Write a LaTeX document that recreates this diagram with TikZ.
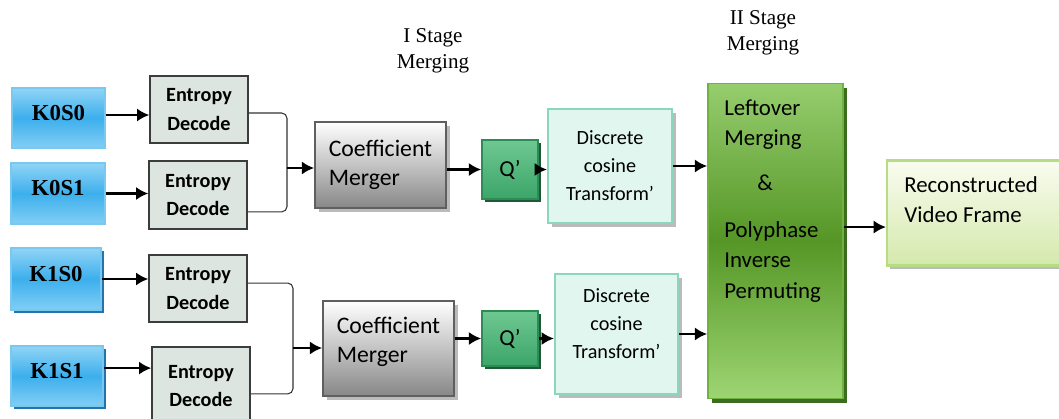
\documentclass[tikz,border=0pt]{standalone}
\usepackage{fontspec}
\setmainfont{Carlito}
\newfontfamily\tnr{Liberation Serif}
\usetikzlibrary{arrows.meta,shadows,calc}

\definecolor{kedge}{RGB}{120,200,240}
\definecolor{ktop}{RGB}{145,212,246}
\definecolor{kmid}{RGB}{60,175,236}
\definecolor{kbot}{RGB}{130,206,245}
\definecolor{kshadow}{RGB}{35,115,175}
\definecolor{edfill}{RGB}{220,229,223}
\definecolor{edline}{RGB}{60,60,60}
\definecolor{cmbot}{RGB}{135,135,135}
\definecolor{cmline}{RGB}{95,95,95}
\definecolor{softshadow}{RGB}{185,188,186}
\definecolor{qtop}{RGB}{110,200,145}
\definecolor{qbot}{RGB}{60,165,105}
\definecolor{qline}{RGB}{45,140,85}
\definecolor{qshadow}{RGB}{30,90,55}
\definecolor{dctfill}{RGB}{226,246,240}
\definecolor{dctline}{RGB}{140,214,190}
\definecolor{grtop}{RGB}{150,205,110}
\definecolor{grmid}{RGB}{85,150,38}
\definecolor{grbot}{RGB}{158,213,115}
\definecolor{grline}{RGB}{112,178,66}
\definecolor{grshadow}{RGB}{60,108,30}
\definecolor{rectop}{RGB}{250,252,240}
\definecolor{recbot}{RGB}{212,233,172}
\definecolor{recline}{RGB}{182,220,132}
\definecolor{connector}{RGB}{50,50,50}

\tikzset{
  box/.style={rectangle, inner sep=0pt, align=center},
  kbox/.style={box, draw=kedge, line width=1pt, top color=ktop, bottom color=kbot,
    middle color=kmid, font=\tnr\bfseries\fontsize{13}{15}\selectfont, text depth=6pt},
  kshad/.style={drop shadow={shadow xshift=1.8pt, shadow yshift=-1.8pt, fill=kshadow, opacity=1}},
  edbox/.style={box, draw=edline, line width=0.8pt, fill=edfill,
    font=\bfseries\fontsize{11.5}{16}\selectfont},
  cmbox/.style={box, align=left, draw=cmline, line width=1pt, top color=white, bottom color=cmbot,
    font=\fontsize{13.5}{16.5}\selectfont,
    drop shadow={shadow xshift=2pt, shadow yshift=-2pt, fill=softshadow, opacity=1}},
  qbox/.style={box, draw=qline, line width=1pt, top color=qtop, bottom color=qbot,
    font=\fontsize{13}{15}\selectfont,
    drop shadow={shadow xshift=1.8pt, shadow yshift=-1.8pt, fill=qshadow, opacity=1}},
  dctbox/.style={box, draw=dctline, line width=1.3pt, fill=dctfill,
    font=\fontsize{11.5}{16}\selectfont,
    drop shadow={shadow xshift=2pt, shadow yshift=-2pt, fill=softshadow, opacity=1}},
  grbox/.style={box, draw=grline, line width=1pt, top color=grtop, bottom color=grbot, middle color=grmid,
    drop shadow={shadow xshift=2pt, shadow yshift=-2.5pt, fill=grshadow, opacity=1}},
  recbox/.style={box, draw=recline, line width=1.2pt, top color=rectop, bottom color=recbot,
    drop shadow={shadow xshift=1.5pt, shadow yshift=-2pt, fill=softshadow, opacity=1}},
  stagetext/.style={inner sep=0pt, align=center, font=\tnr\fontsize{12}{14.7}\selectfont},
  arr/.style={line width=1.3pt, -{Latex[length=7pt,width=7.5pt]}},
  brace/.style={draw=connector, line width=0.6pt, rounded corners=3pt},
}

\begin{document}
\begin{tikzpicture}[x=0.02cm, y=-0.02cm]
\clip (0,0) rectangle (1059,419);

% stream inputs
\node[kbox, minimum width=1.86cm, minimum height=1.2cm] (k00) at (58.5,118) {K0S0};
\node[kbox, minimum width=1.88cm, minimum height=1.22cm] (k01) at (58,193.5) {K0S1};
\node[kbox, kshad, minimum width=1.8cm, minimum height=1.24cm] (k10) at (56,279) {K1S0};
\node[kbox, kshad, minimum width=1.84cm, minimum height=1.2cm] (k11) at (57,376) {K1S1};

% entropy decoders
\node[edbox, minimum width=1.96cm, minimum height=1.34cm] (ed1) at (199,109.5) {Entropy\\Decode};
\node[edbox, minimum width=1.96cm, minimum height=1.36cm] (ed2) at (198,195) {Entropy\\Decode};
\node[edbox, minimum width=1.96cm, minimum height=1.34cm] (ed3) at (198,288.5) {Entropy\\Decode};
\node[edbox, minimum width=1.96cm, minimum height=1.56cm] (ed4) at (201,386) {Entropy\\Decode};

% first stage merging
\node[stagetext] (st1) at (433,51) {I Stage\\Merging};
\node[cmbox, minimum width=2.62cm, minimum height=1.72cm] (cm1) at (380.5,165) {Coefficient\\Merger};
\node[cmbox, minimum width=2.62cm, minimum height=1.9cm, text depth=10pt] (cm2) at (388.5,348.5) {Coefficient\\Merger};
\node[qbox, minimum width=1.12cm, minimum height=1.18cm] (q1) at (510,169.5) {Q’};
\node[qbox, minimum width=1.12cm, minimum height=1.1cm] (q2) at (510,338.5) {Q’};
\node[dctbox, minimum width=2.48cm, minimum height=2.28cm] (dct1) at (610,166) {Discrete\\cosine\\Transform’};
\node[dctbox, minimum width=2.46cm, minimum height=2.4cm, text depth=12pt] (dct2) at (616.5,334) {Discrete\\cosine\\Transform’};

% second stage merging
\node[stagetext] (st2) at (763,33) {II Stage\\Merging};
\node[grbox, minimum width=2.7cm, minimum height=6.3cm] (gr) at (775.5,241) {};
\node[inner sep=0pt, align=left, anchor=west, font=\fontsize{13}{17.5}\selectfont] (grtext) at (724,201)
  {Leftover\\Merging\\[8pt]\hspace*{0.66cm}\&\\[9pt]Polyphase\\Inverse\\Permuting};
\node[recbox, minimum width=3.76cm, minimum height=2.1cm] (rec) at (981,213) {};
\node[inner sep=0pt, align=left, anchor=west, font=\fontsize{13}{17}\selectfont] (rectext) at (904,200)
  {Reconstructed\\Video Frame};

% inputs into decoders
\draw[arr] ([yshift=1.7pt]k00.east) -- ([yshift=1.7pt]k00.east -| ed1.west);
\draw[arr] (k01.east) -- (k01.east -| ed2.west);
\draw[arr] (k10.east) -- (k10.east -| ed3.west);
\draw[arr] ([yshift=4.5pt]k11.east) -- ([yshift=4.5pt]k11.east -| ed4.west);

% decoder pairs joined into the mergers
\coordinate (j1) at (287,168);
\coordinate (j2) at (293,348);
\draw[brace] ([yshift=-2pt]ed1.east) -| (j1) |- ([yshift=-9.6pt]ed2.east);
\draw[brace] ([yshift=3.1pt]ed3.east) -| (j2) |- ([yshift=-4.5pt]ed4.east);
\draw[arr] (j1) -- (j1 -| cm1.west);
\draw[arr] (j2) -- (j2 -| cm2.west);

% merger chains
\draw[arr] (q1.west -| cm1.east) -- (q1.west);
\draw[arr] (q1.east) -- (q1.east -| dct1.west);
\draw[arr] (dct1.east) -- (dct1.east -| gr.west);
\draw[arr] (q2.west -| cm2.east) -- (q2.west);
\draw[arr] (q2.east) -- (q2.east -| dct2.west);
\draw[arr] (dct2.east) -- (dct2.east -| gr.west);
\draw[arr] ([yshift=-8pt]rec.west -| gr.east) -- ([yshift=-8pt]rec.west);
\end{tikzpicture}
\end{document}
